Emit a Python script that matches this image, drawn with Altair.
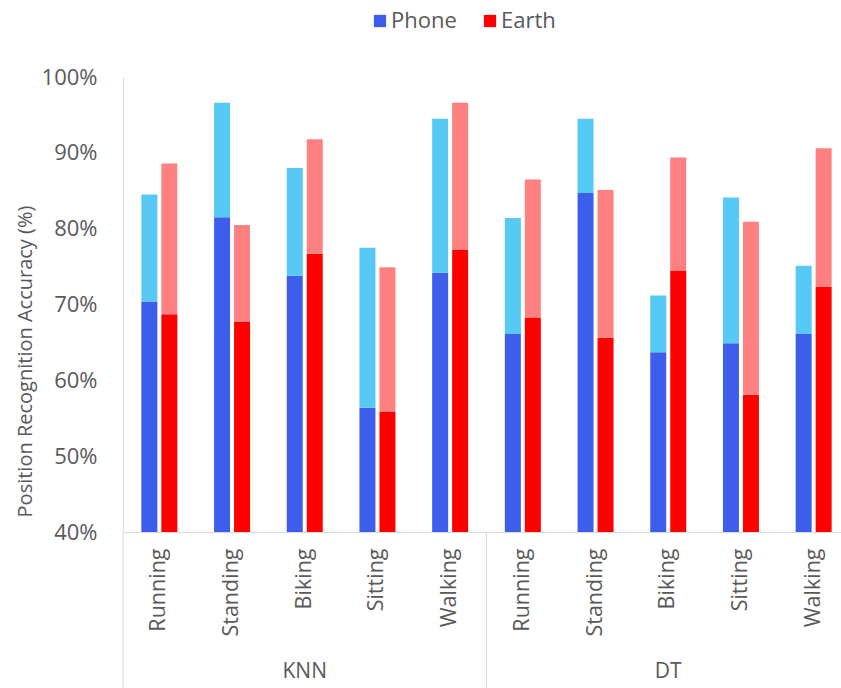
import altair as alt
import pandas as pd

# Classifiers and activities (x axis is grouped: classifier > activity)
groups = ["KNN", "DT"]
activities = ["Running", "Standing", "Biking", "Sitting", "Walking"]

# Accuracy (%) per category, KNN first then DT
phone_base = [70.4, 81.5, 73.8, 56.4, 74.2, 66.1, 84.7, 63.7, 64.9, 66.1]
phone_top = [84.5, 96.6, 88.0, 77.5, 94.5, 81.4, 94.5, 71.2, 84.1, 75.1]
earth_base = [68.7, 67.7, 76.7, 55.9, 77.2, 68.3, 65.6, 74.5, 58.1, 72.3]
earth_top = [88.6, 80.5, 91.8, 74.9, 96.6, 86.5, 85.1, 89.4, 80.9, 90.6]

y_ticks = [40, 50, 60, 70, 80, 90, 100]
y_min, y_max = 40, 100

devices = ["Phone", "Earth"]
parts = ["Phone", "Earth", "Phone upper", "Earth upper"]
part_colors = ["#3C5EEB", "#FF0000", "#56C9F4", "#FF8080"]

cats = [f"{g}|{a}" for g in groups for a in activities]

rows = []
for i, cat in enumerate(cats):
    for dev, base, top in (("Phone", phone_base, phone_top),
                           ("Earth", earth_base, earth_top)):
        rows.append(dict(cat=cat, device=dev, part=dev, lo=y_min, hi=base[i]))
        rows.append(dict(cat=cat, device=dev, part=dev + " upper", lo=base[i], hi=top[i]))
bars_df = pd.DataFrame(rows)

FONT = "Open Sans"
GREY = "#595959"
LINE = "#D9D9D9"

PLOT_W, PLOT_H = 718, 455
X_RANGE = 727
STEP = X_RANGE / len(cats)

x_enc = alt.X(
    "cat:N",
    sort=cats,
    scale=alt.Scale(range=[0, X_RANGE], paddingInner=0.505, paddingOuter=0.2525),
    axis=alt.Axis(
        title=None,
        labelExpr="split(datum.value, '|')[1]",
        labelAngle=-90,
        labelFont=FONT,
        labelFontSize=21.5,
        labelColor=GREY,
        labelPadding=16,
        ticks=False,
        tickSize=0,
        domainColor=LINE,
        domainWidth=1,
        grid=False,
    ),
)

bars = alt.Chart(bars_df).mark_bar(strokeWidth=0).encode(
    x=x_enc,
    xOffset=alt.XOffset("device:N", sort=devices,
                        scale=alt.Scale(paddingInner=0.2, paddingOuter=0)),
    y=alt.Y(
        "hi:Q",
        scale=alt.Scale(domain=[y_min, y_max], nice=False, zero=False),
        axis=alt.Axis(
            title="Position Recognition Accuracy (%)",
            values=y_ticks,
            labelExpr="datum.value + '%'",
            labelFont=FONT,
            labelFontSize=22,
            labelColor=GREY,
            labelPadding=26,
            ticks=False,
            tickSize=0,
            grid=False,
            domainColor=LINE,
            domainWidth=1,
            titleFont=FONT,
            titleFontSize=20,
            titleFontWeight="normal",
            titleColor=GREY,
            titleX=-98,
            titleY=284,
            titleBaseline="middle",
        ),
    ),
    y2="lo:Q",
    color=alt.Color(
        "part:N",
        scale=alt.Scale(domain=parts, range=part_colors),
        legend=alt.Legend(
            values=devices,
            title=None,
            orient="none",
            direction="horizontal",
            legendX=246,
            legendY=-67,
            symbolType="square",
            symbolSize=150,
            symbolStrokeWidth=0,
            labelFont=FONT,
            labelFontSize=22,
            labelColor=GREY,
            labelOffset=0,
            columnPadding=22,
        ),
    ),
)

# Vertical separators of the grouped category axis (left edge and between groups)
sep_df = pd.DataFrame({"cat": [f"{g}|{activities[0]}" for g in groups]})
separators = alt.Chart(sep_df).mark_rule(color=LINE, strokeWidth=1, xOffset=-STEP / 2).encode(
    x=alt.X("cat:N", sort=cats),
    y=alt.value(PLOT_H),
    y2=alt.value(PLOT_H + 156),
)

# Classifier labels centred under each group
grp_df = pd.DataFrame({"cat": [f"{g}|{activities[2]}" for g in groups], "label": groups})
group_labels = alt.Chart(grp_df).mark_text(
    font=FONT, fontSize=21, color=GREY, baseline="middle", align="center"
).encode(
    x=alt.X("cat:N", sort=cats),
    y=alt.value(PLOT_H + 140),
    text="label:N",
)

chart = (
    alt.layer(bars, separators, group_labels)
    .properties(
        width=PLOT_W,
        height=PLOT_H,
        autosize=alt.AutoSizeParams(type="none"),
        padding={"left": 123, "top": 77, "right": 0, "bottom": 156},
        background="white",
    )
    .configure_view(stroke=None)
)

chart.save("out.html", embed_options={"renderer": "svg", "actions": False})
